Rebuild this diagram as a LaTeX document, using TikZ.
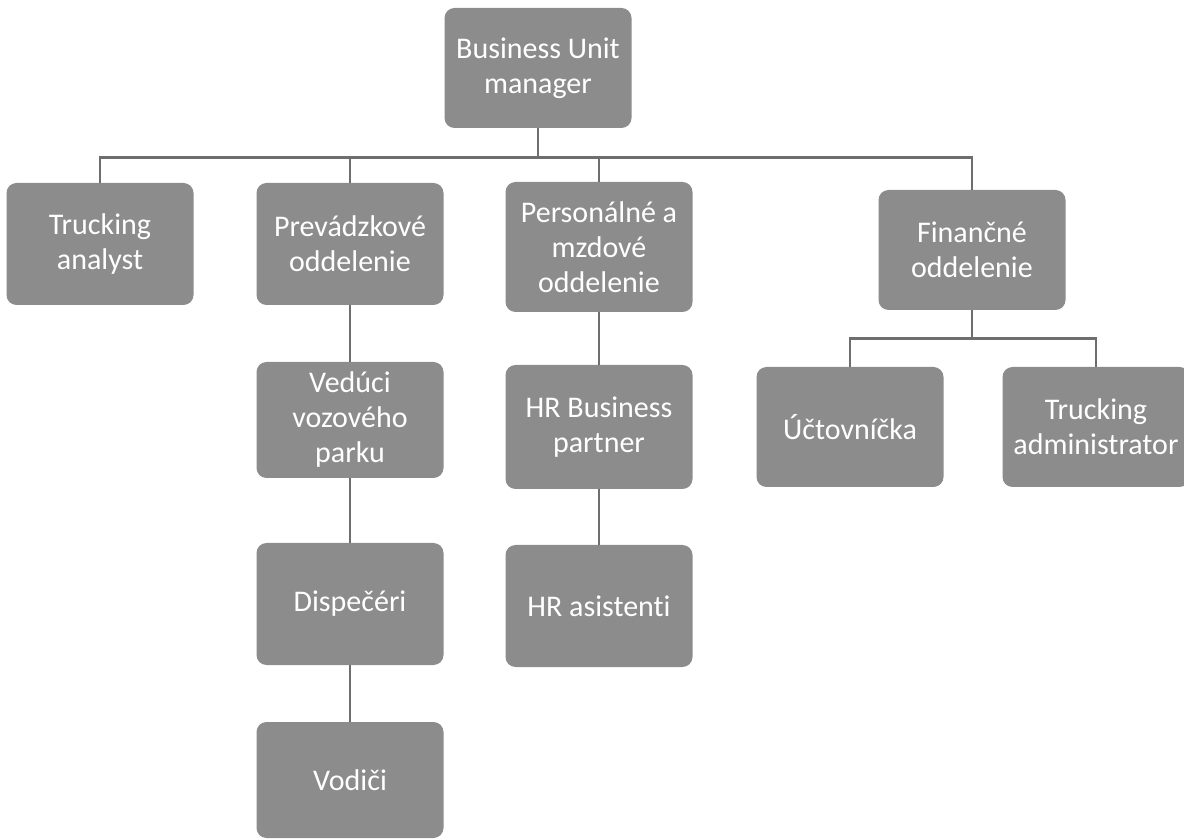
\documentclass[tikz,border=0pt]{standalone}
\usepackage{fontspec}
\setmainfont[Ligatures={NoCommon}]{Carlito}
\usepackage{tikz}
\definecolor{boxgray}{HTML}{8C8C8C}
\definecolor{linegray}{HTML}{6E6E6E}

\begin{document}
\begin{tikzpicture}[x = 0.5pt, y = -0.5pt,
    unit/.style = {fill = boxgray, rounded corners = 5pt, minimum width = 93.5pt, minimum height = 60pt,
      inner sep = 0pt, align = center, text = white, font = \fontsize{15}{17.5}\selectfont},
    link/.style = {draw = linegray, line width = 1.2pt}]
    \useasboundingbox (0,0) rectangle (1184,839);
    \node[unit] (bum) at (538,68) {Business Unit\\manager};
    \node[unit, minimum height = 61pt] (analyst) at (100,244) {Trucking\\analyst};
    \node[unit, minimum height = 61pt] (prev) at (350,244) {Prevádzkové\\oddelenie};
    \node[unit, minimum height = 65pt] (pers) at (599,247) {Personálné a\\mzdové\\oddelenie};
    \node[unit] (fin) at (972,250) {Finančné\\oddelenie};
    \node[unit, minimum height = 58pt] (ved) at (350,420) {Vedúci\\vozového\\parku};
    \node[unit, minimum height = 62pt] (hrbp) at (599,427) {HR Business\\partner};
    \node[unit, minimum height = 61pt] (disp) at (350,604) {Dispečéri};
    \node[unit, minimum height = 61pt] (hra) at (599,606) {HR asistenti};
    \node[unit, minimum height = 58pt] (vod) at (350,780) {Vodiči};
    \node[unit] (uct) at (850,427) {Účtovníčka};
    \node[unit] (tadm) at (1096,427) {Trucking\\administrator};
    \draw[link] (bum.south) -- ++(0,29) coordinate (hub);
    \draw[link] (hub) -| (analyst.north);
    \draw[link] (hub) -| (prev.north);
    \draw[link] (hub) -| (pers.north);
    \draw[link] (hub) -| (fin.north);
    \draw[link] (prev) -- (ved);
    \draw[link] (ved) -- (disp);
    \draw[link] (disp) -- (vod);
    \draw[link] (pers) -- (hrbp);
    \draw[link] (hrbp) -- (hra);
    \draw[link] (fin.south) -- ++(0,28) coordinate (finhub);
    \draw[link] (finhub) -| (uct.north);
    \draw[link] (finhub) -| (tadm.north);
  \end{tikzpicture}
\end{document}
